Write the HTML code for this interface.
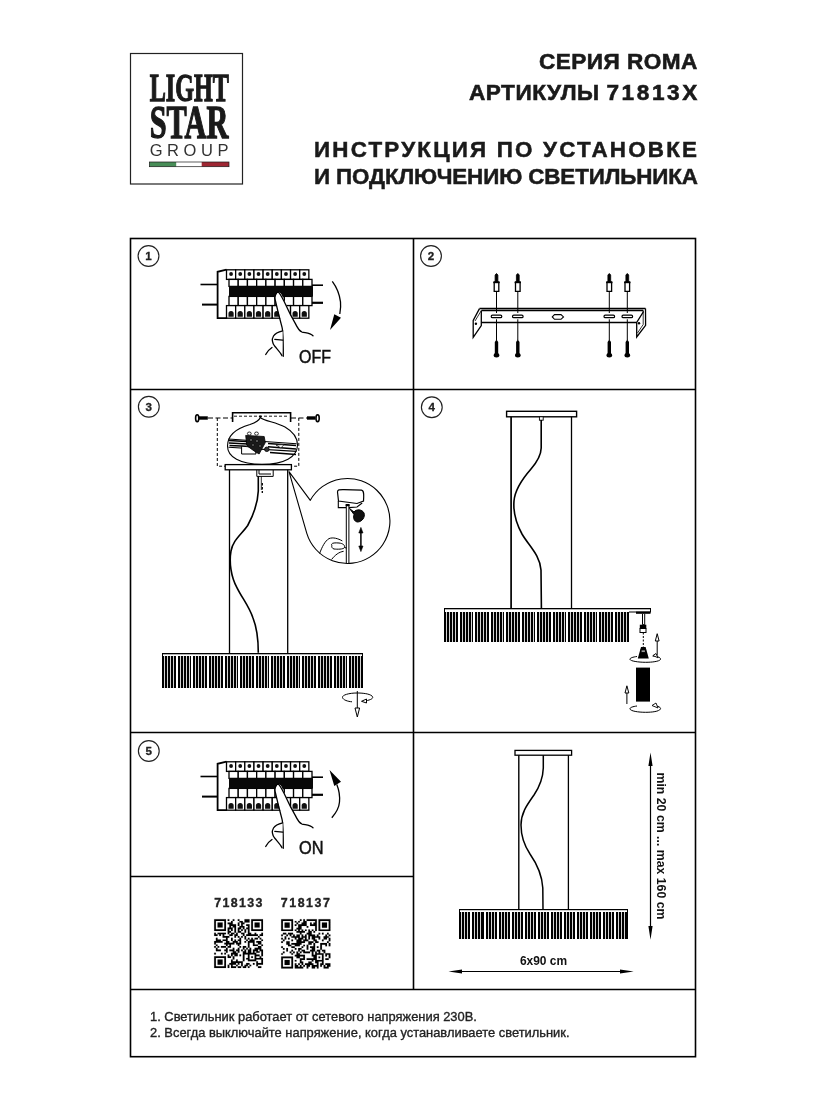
<!DOCTYPE html>
<html><head><meta charset="utf-8">
<style>
html,body{margin:0;padding:0;background:#fff;}
body{width:826px;height:1100px;position:relative;overflow:hidden;font-family:"Liberation Sans",sans-serif;color:#1a1a1a;}
.abs{position:absolute;white-space:nowrap;will-change:transform;}
.h1{font-weight:bold;font-size:22.6px;line-height:1;-webkit-text-stroke:0.6px #1a1a1a;}
.h2{font-weight:bold;font-size:22.4px;line-height:1;-webkit-text-stroke:0.5px #1a1a1a;}
svg{position:absolute;left:0;top:0;will-change:transform;}
</style></head><body>
<!-- header texts -->
<div class="abs h1" id="t1" style="left:539px;top:51px;letter-spacing:0.45px;">СЕРИЯ ROMA</div>
<div class="abs h1" id="t2" style="left:469px;top:82px;letter-spacing:0.5px;">АРТИКУЛЫ <span style="letter-spacing:2.6px">71813</span>X</div>
<div class="abs h2" id="t3" style="left:314px;top:139px;letter-spacing:2.2px;">ИНСТРУКЦИЯ ПО УСТАНОВКЕ</div>
<div class="abs h2" id="t4" style="left:314px;top:166px;letter-spacing:-0.12px;">И ПОДКЛЮЧЕНИЮ СВЕТИЛЬНИКА</div>

<svg width="826" height="1100" viewBox="0 0 826 1100">
<!-- logo box -->
<rect x="130.5" y="53.5" width="112" height="130.5" fill="none" stroke="#222" stroke-width="1.2"/>
<!-- grid -->
<g stroke="#000" stroke-width="1.6" fill="none">
<rect x="130.5" y="238.5" width="565" height="818.2"/>
<line x1="413.5" y1="238.5" x2="413.5" y2="989.5"/>
<line x1="130.5" y1="389.5" x2="695.5" y2="389.5"/>
<line x1="130.5" y1="732.5" x2="695.5" y2="732.5"/>
<line x1="130.5" y1="876.5" x2="413.5" y2="876.5"/>
<line x1="130.5" y1="989.5" x2="695.5" y2="989.5"/>
</g>
<!-- panel1 -->
<g id="p1">
<g stroke="#000" fill="none" stroke-width="1.6">
<line x1="200.5" y1="284.5" x2="218" y2="284.5"/><line x1="202" y1="304.6" x2="218" y2="304.6" stroke-width="2"/>
<line x1="312" y1="285.2" x2="323" y2="285.2"/><line x1="312" y1="302.8" x2="323" y2="302.8" stroke-width="2.2"/>
<path d="M226.5 269.6 L217.6 271.8 L217.6 318.2 L227 318.2" stroke-width="1.8"/>
</g>
<g stroke="#000" fill="#fff" stroke-width="1.3">
<rect x="226.50" y="269.8" width="9.15" height="9.6"/>
<rect x="235.65" y="269.8" width="9.15" height="9.6"/>
<rect x="244.80" y="269.8" width="9.15" height="9.6"/>
<rect x="253.95" y="269.8" width="9.15" height="9.6"/>
<rect x="263.10" y="269.8" width="9.15" height="9.6"/>
<rect x="272.25" y="269.8" width="9.15" height="9.6"/>
<rect x="281.40" y="269.8" width="9.15" height="9.6"/>
<rect x="290.55" y="269.8" width="9.15" height="9.6"/>
<rect x="299.70" y="269.8" width="9.15" height="9.6"/>
</g>
<g fill="#111">
<circle cx="231.07" cy="274" r="1.9"/>
<circle cx="240.22" cy="274" r="1.9"/>
<circle cx="249.38" cy="274" r="1.9"/>
<circle cx="258.52" cy="274" r="1.9"/>
<circle cx="267.68" cy="274" r="1.9"/>
<circle cx="276.82" cy="274" r="1.9"/>
<circle cx="285.97" cy="274" r="1.9"/>
<circle cx="295.12" cy="274" r="1.9"/>
<circle cx="304.27" cy="274" r="1.9"/>
</g>
<g stroke="#000" fill="#fff" stroke-width="1.3">
<rect x="229.00" y="279.4" width="9.22" height="7"/>
<rect x="229.00" y="296.4" width="9.22" height="9.2"/>
<rect x="238.22" y="279.4" width="9.22" height="7"/>
<rect x="238.22" y="296.4" width="9.22" height="9.2"/>
<rect x="247.44" y="279.4" width="9.22" height="7"/>
<rect x="247.44" y="296.4" width="9.22" height="9.2"/>
<rect x="256.67" y="279.4" width="9.22" height="7"/>
<rect x="256.67" y="296.4" width="9.22" height="9.2"/>
<rect x="265.89" y="279.4" width="9.22" height="7"/>
<rect x="265.89" y="296.4" width="9.22" height="9.2"/>
<rect x="275.11" y="279.4" width="9.22" height="7"/>
<rect x="275.11" y="296.4" width="9.22" height="9.2"/>
<rect x="284.33" y="279.4" width="9.22" height="7"/>
<rect x="284.33" y="296.4" width="9.22" height="9.2"/>
<rect x="293.56" y="279.4" width="9.22" height="7"/>
<rect x="293.56" y="296.4" width="9.22" height="9.2"/>
<rect x="302.78" y="279.4" width="9.22" height="7"/>
<rect x="302.78" y="296.4" width="9.22" height="9.2"/>
</g>
<rect x="229" y="286.2" width="84" height="10.4" fill="#080808"/>
<g stroke="#000" fill="#fff" stroke-width="1.3">
<rect x="226.50" y="305.6" width="9.15" height="12.6"/>
<rect x="235.65" y="305.6" width="9.15" height="12.6"/>
<rect x="244.80" y="305.6" width="9.15" height="12.6"/>
<rect x="253.95" y="305.6" width="9.15" height="12.6"/>
<rect x="263.10" y="305.6" width="9.15" height="12.6"/>
<rect x="272.25" y="305.6" width="9.15" height="12.6"/>
<rect x="281.40" y="305.6" width="9.15" height="12.6"/>
<rect x="290.55" y="305.6" width="9.15" height="12.6"/>
<rect x="299.70" y="305.6" width="9.15" height="12.6"/>
</g>
<g fill="#111">
<path d="M228.47 316.8 L228.47 313.6 A2.6 2.6 0 0 1 233.67 313.6 L233.67 316.8 Z"/>
<path d="M237.62 316.8 L237.62 313.6 A2.6 2.6 0 0 1 242.82 313.6 L242.82 316.8 Z"/>
<path d="M246.78 316.8 L246.78 313.6 A2.6 2.6 0 0 1 251.98 313.6 L251.98 316.8 Z"/>
<path d="M255.92 316.8 L255.92 313.6 A2.6 2.6 0 0 1 261.12 313.6 L261.12 316.8 Z"/>
<path d="M265.08 316.8 L265.08 313.6 A2.6 2.6 0 0 1 270.28 313.6 L270.28 316.8 Z"/>
<path d="M274.22 316.8 L274.22 313.6 A2.6 2.6 0 0 1 279.42 313.6 L279.42 316.8 Z"/>
<path d="M283.37 316.8 L283.37 313.6 A2.6 2.6 0 0 1 288.57 313.6 L288.57 316.8 Z"/>
<path d="M292.52 316.8 L292.52 313.6 A2.6 2.6 0 0 1 297.72 313.6 L297.72 316.8 Z"/>
<path d="M301.67 316.8 L301.67 313.6 A2.6 2.6 0 0 1 306.87 313.6 L306.87 316.8 Z"/>
</g>
<g stroke="#000" stroke-width="1.3" fill="#fff" stroke-linejoin="round" stroke-linecap="round">
<path d="M274.8 298.2 C275.5 292.5 279.5 290.8 281.5 294.5 C283.5 299 285.5 303 287 307 C289.5 313 292 318.5 295.4 323.6 C297 327 299 330.5 302 332 C305 333 309 333 313 335.7 L300 360 L283.3 360 L283.3 331 C281 322 279 312 274.8 298.2 Z" stroke="none"/>
<path d="M274.8 298.2 C277 308 279.5 318 282 327.2 C283.3 332 283.3 345 283.3 356.3" fill="none"/>
<path d="M278.5 292.1 C281 295 284 301 286.3 306 C288.5 311 291 316 295.4 323.6 C297 327 299.5 331 302 332 C305.5 333 310 333 313 335.7" fill="none"/>
<path d="M274.8 298.2 C275.5 293.5 277 292 278.5 292.1" fill="none"/>
<path d="M282.7 330.8 C278 332 275 333.5 273.5 336 C271.5 339.5 272.5 343.5 275 346.5 C277.5 349.5 280.5 352.5 282 355.7" fill="#fff"/>
<path d="M274.8 339.3 L282.7 340.2" fill="none"/>
<path d="M265.7 354.5 C267 351.5 269 349.5 272 347.5" fill="none"/>
</g>
</g>
<path d="M332.3 281.4 C336.5 287 339.5 294 340.5 301.8 C341 306 340.5 310 339.8 314" fill="none" stroke="#000" stroke-width="1.3"/>
<path d="M334.3 314.3 L341 317.8 L330 330 Z" fill="#000"/>
<text x="299" y="363.2" font-family="Liberation Sans" font-size="17.5" fill="#111" stroke="#111" stroke-width="0.45" textLength="32" lengthAdjust="spacingAndGlyphs">OFF</text>
<use href="#p1" y="492"/>
<path d="M336.8 784.5 C339 790 340 796 339.5 802 C339 808 336 813 331.8 817.7" fill="none" stroke="#000" stroke-width="1.3"/>
<path d="M329.5 770 L334.3 786 L341 781.8 Z" fill="#000"/>
<text x="299" y="853.8" font-family="Liberation Sans" font-size="17.5" fill="#111" stroke="#111" stroke-width="0.45" textLength="24.5" lengthAdjust="spacingAndGlyphs">ON</text>

<!-- panel2 -->
<g id="p2" stroke="#000" fill="none" stroke-width="1.2">
<path d="M479.5 308.6 L645.5 308.6 M481.5 310.6 L643.2 310.6 M481.5 322.5 L636.7 322.5" stroke-width="1.5"/>
<path d="M479.5 308.6 L473.2 320.4 L473.2 337.4 L481.3 325.6 L481.3 310.6" stroke-width="1.3"/>
<path d="M481.3 310.6 L475 321 " stroke-width="0.8"/>
<circle cx="475.9" cy="323.8" r="1.2" fill="#000" stroke="none"/>
<path d="M645.5 308.6 L645.6 325.3 L636.7 337 L636.7 322.5 L643.2 312 L643.2 310.6" stroke-width="1.3"/>
<path d="M643.2 312 L643.2 324.5 L637.5 333" stroke-width="0.8"/>
<circle cx="639" cy="323.2" r="1.2" fill="#000" stroke="none"/>
<path d="M552.3 316.9 L554.5 314.6 L561 314.6 L563.5 316.9 L561 319.3 L554.5 319.3 Z" stroke-width="1.1"/>
<rect x="491.2" y="315.1" width="10.6" height="2.6" rx="1.3"/>
<line x1="496.5" y1="291" x2="496.5" y2="313" stroke-width="1"/>
<line x1="496.5" y1="319.3" x2="496.5" y2="340" stroke-width="1"/>
<path d="M494.2 282 L494.2 291.3 L498.8 291.3 L498.8 282 Z" fill="#fff" stroke-width="1.3"/>
<path d="M493.3 282.5 L499.7 282.5" stroke-width="1.4"/>
<path d="M495.1 282 L495.1 275 Q496.5 272 497.9 275 L497.9 282 Z" fill="#000" stroke-width="0.8"/>
<path d="M496.5 339.5 L498.2 342 L498.2 354 L494.8 354 L494.8 342 Z" fill="#000" stroke="none"/>
<ellipse cx="496.5" cy="355.3" rx="2.8" ry="2.2" fill="#000" stroke="none"/>
<rect x="512.5" y="315.1" width="10.6" height="2.6" rx="1.3"/>
<line x1="517.8" y1="291" x2="517.8" y2="313" stroke-width="1"/>
<line x1="517.8" y1="319.3" x2="517.8" y2="340" stroke-width="1"/>
<path d="M515.5 282 L515.5 291.3 L520.1 291.3 L520.1 282 Z" fill="#fff" stroke-width="1.3"/>
<path d="M514.6 282.5 L521.0 282.5" stroke-width="1.4"/>
<path d="M516.4 282 L516.4 275 Q517.8 272 519.2 275 L519.2 282 Z" fill="#000" stroke-width="0.8"/>
<path d="M517.8 339.5 L519.5 342 L519.5 354 L516.1 354 L516.1 342 Z" fill="#000" stroke="none"/>
<ellipse cx="517.8" cy="355.3" rx="2.8" ry="2.2" fill="#000" stroke="none"/>
<rect x="604.0" y="315.1" width="10.6" height="2.6" rx="1.3"/>
<line x1="609.3" y1="291" x2="609.3" y2="313" stroke-width="1"/>
<line x1="609.3" y1="319.3" x2="609.3" y2="340" stroke-width="1"/>
<path d="M607.0 282 L607.0 291.3 L611.6 291.3 L611.6 282 Z" fill="#fff" stroke-width="1.3"/>
<path d="M606.1 282.5 L612.5 282.5" stroke-width="1.4"/>
<path d="M607.9 282 L607.9 275 Q609.3 272 610.7 275 L610.7 282 Z" fill="#000" stroke-width="0.8"/>
<path d="M609.3 339.5 L611.0 342 L611.0 354 L607.6 354 L607.6 342 Z" fill="#000" stroke="none"/>
<ellipse cx="609.3" cy="355.3" rx="2.8" ry="2.2" fill="#000" stroke="none"/>
<rect x="622.0" y="315.1" width="10.6" height="2.6" rx="1.3"/>
<line x1="627.3" y1="291" x2="627.3" y2="313" stroke-width="1"/>
<line x1="627.3" y1="319.3" x2="627.3" y2="340" stroke-width="1"/>
<path d="M625.0 282 L625.0 291.3 L629.6 291.3 L629.6 282 Z" fill="#fff" stroke-width="1.3"/>
<path d="M624.1 282.5 L630.5 282.5" stroke-width="1.4"/>
<path d="M625.9 282 L625.9 275 Q627.3 272 628.7 275 L628.7 282 Z" fill="#000" stroke-width="0.8"/>
<path d="M627.3 339.5 L629.0 342 L629.0 354 L625.6 354 L625.6 342 Z" fill="#000" stroke="none"/>
<ellipse cx="627.3" cy="355.3" rx="2.8" ry="2.2" fill="#000" stroke="none"/>
</g>
<!-- panels346 -->
<g id="p3" stroke="#000" fill="none" stroke-width="1.2">
<path d="M207.8 418 L199 418" stroke-width="3.4"/>
<ellipse cx="197.2" cy="418.2" rx="1.6" ry="3.4" fill="#fff" stroke-width="1.6"/>
<path d="M307 418 L315.5 418" stroke-width="3.4"/>
<ellipse cx="317.6" cy="418.2" rx="1.6" ry="3.4" fill="#fff" stroke-width="1.6"/>
<path d="M208 418 L232 418 M291 418 L307 418" stroke-dasharray="5 2.5" stroke-width="1"/>
<path d="M232.6 422 L232.6 412.7 L290.6 412.7 L290.6 422" stroke-width="1.6"/>
<path d="M234 416.2 L289 416.2" stroke-dasharray="3 2" stroke-width="0.9"/>
<ellipse cx="260.3" cy="416.4" rx="1.5" ry="1" fill="#000" stroke="none"/>
<path d="M217.3 418 L217.3 466.2 L298.8 466.2 L298.8 418" stroke-dasharray="3 2" stroke-width="1"/>
<path d="M260.3 417.5 C259 421 256 422.5 250 424.5 C236 428.5 227.5 436 227.5 446 C227.5 457 240 464.3 262 464.3 C284 464.3 297.5 457 297.5 445 C297.5 437 292 431 285 427 C275 422 264 421 260.3 417.5 Z" fill="#fff" stroke-width="1.1"/>
<path d="M228.5 439 L296.5 443.7 M228.5 447.3 L296.5 451.4" stroke-width="1.1"/>
<path d="M229 440.6 L250 441.8 M229 443 L248 444 M229.5 445.5 L246 446.3 M268 443.4 L296 445.6 M268 446.8 L296 449 M270 452.6 L296 454.6" stroke-width="1.5"/>
<path d="M276 445 L284 444.5 L281 448 Z" fill="#fff" stroke-width="0.7"/>
<path d="M241.6 446.2 L255 447.3 L256 454 L241.6 454 Z" fill="#fff" stroke-width="1"/>
<path d="M245.7 435.4 L264.2 436.5 L265.3 442.6 L259.1 454 L254 450.9 L246.8 445.7 Z" fill="#1a1a1a" stroke-width="0.8"/>
<g fill="#fff" stroke="#000" stroke-width="0.8"><ellipse cx="249.3" cy="433.6" rx="1.9" ry="1.6"/><ellipse cx="256.5" cy="433.6" rx="1.9" ry="1.6"/><circle cx="251" cy="440" r="1.1"/><circle cx="257" cy="441" r="1.1"/><circle cx="253" cy="445" r="1"/><circle cx="260" cy="446" r="1"/></g>
<circle cx="266.8" cy="449.3" r="2.3" fill="#333" stroke-width="0.8"/>
<rect x="225.2" y="464.6" width="66.2" height="5.2" fill="#fff" stroke-width="1.3"/>
<line x1="229.5" y1="469.8" x2="229.5" y2="653" stroke-width="1.3"/>
<line x1="287.7" y1="469.8" x2="287.7" y2="653" stroke-width="1.3"/>
<path d="M256.8 470 L256.8 476.4 L273.2 476.4 L273.2 470 M259 470 L259 474 L271 474" stroke-width="1"/>
<path d="M258.3 476.4 L258.3 491 C258 499 255 512 247.7 525.5 C241 535 233 540 231 551 C229 562 231 577 236.8 587.3 C242 598 249 606 253 618 C257 628 258.3 638 258.3 652.7" stroke-width="1.6"/>
<path d="M261.3 476.4 L261.3 490" stroke-width="0.8"/>
<path d="M262.3 483 L262.3 493" stroke-width="1.3" stroke-dasharray="2.5 1.5"/>
<path d="M289 471.7 L310.3 500.3 A42.5 42.5 0 1 1 306.8 533.4 Z" fill="#fff" stroke-width="1.1" stroke-linejoin="round"/>
<path d="M337.5 492 C337.5 489.8 339 489.5 344 489.6 L361.5 490.2 C363.5 490.5 363.8 492 363.7 497 L363.5 501 L357 503.5 L338.5 501 Z" fill="#fff" stroke-width="1.2"/>
<path d="M338.3 501 L338.3 507.6 L346 507.6 M349 507.6 L357 507 L362.2 503" stroke-width="1.1"/>
<path d="M346.3 505 L346.3 563.5 M348.9 505 L348.9 563.5" stroke-width="1"/>
<rect x="345.6" y="504" width="4" height="2.2" fill="#000" stroke="none"/>
<path d="M349.5 508.5 L354 512 C356 509 362 509 364 513 C365.5 517 362 522 357.5 522 C354 521.5 353 518 354 514.5 Z" fill="#111" stroke-width="1"/>
<path d="M360.9 531 L360.9 548" stroke-width="1.5"/>
<path d="M358.8 533 L360.9 527.4 L363 533 Z M358.8 546 L360.9 551.6 L363 546 Z" fill="#000" stroke-width="0.6"/>
<path d="M319.6 553.5 C322 547 325 541 329 538.6 C333 537 338 538.5 342.3 540.9 M331.8 545.5 C330.6 543 334 542.6 339 543 C343 543.5 345 545 344.5 547.5 C343.5 549.5 337 549.3 334 549 C332.3 548.6 331.4 547 331.8 545.5 Z M331.6 559.5 C335 555 339 552 343.6 551.3" stroke-width="1" fill="none"/>
<path d="M344.5 547.5 L346.5 548" stroke-width="1.2"/>
<g fill="#000" stroke="none"><rect x="162" y="653" width="201" height="1.3"/><rect x="162" y="653" width="1" height="35"/><rect x="362" y="653" width="1" height="3"/></g>
<g fill="#000" stroke="none" shape-rendering="crispEdges"><rect x="162" y="656" width="2" height="32"/><rect x="165" y="656" width="2" height="32"/><rect x="168" y="656" width="2" height="32"/><rect x="171" y="656" width="2" height="32"/><rect x="174" y="656" width="2" height="32"/><rect x="178" y="656" width="2" height="32"/><rect x="181" y="656" width="2" height="32"/><rect x="184" y="656" width="2" height="32"/><rect x="187" y="656" width="2" height="32"/><rect x="190" y="656" width="1" height="32"/><rect x="193" y="656" width="2" height="32"/><rect x="196" y="656" width="2" height="32"/><rect x="199" y="656" width="2" height="32"/><rect x="202" y="656" width="2" height="32"/><rect x="205" y="656" width="2" height="32"/><rect x="209" y="656" width="2" height="32"/><rect x="212" y="656" width="2" height="32"/><rect x="215" y="656" width="2" height="32"/><rect x="218" y="656" width="2" height="32"/><rect x="221" y="656" width="2" height="32"/><rect x="225" y="656" width="2" height="32"/><rect x="228" y="656" width="2" height="32"/><rect x="231" y="656" width="2" height="32"/><rect x="234" y="656" width="2" height="32"/><rect x="237" y="656" width="1" height="32"/><rect x="240" y="656" width="2" height="32"/><rect x="243" y="656" width="2" height="32"/><rect x="246" y="656" width="2" height="32"/><rect x="249" y="656" width="2" height="32"/><rect x="252" y="656" width="2" height="32"/><rect x="256" y="656" width="2" height="32"/><rect x="259" y="656" width="2" height="32"/><rect x="262" y="656" width="2" height="32"/><rect x="265" y="656" width="2" height="32"/><rect x="268" y="656" width="1" height="32"/><rect x="271" y="656" width="2" height="32"/><rect x="274" y="656" width="2" height="32"/><rect x="277" y="656" width="2" height="32"/><rect x="280" y="656" width="2" height="32"/><rect x="283" y="656" width="2" height="32"/><rect x="287" y="656" width="2" height="32"/><rect x="290" y="656" width="2" height="32"/><rect x="293" y="656" width="2" height="32"/><rect x="296" y="656" width="2" height="32"/><rect x="299" y="656" width="1" height="32"/><rect x="302" y="656" width="2" height="32"/><rect x="305" y="656" width="2" height="32"/><rect x="308" y="656" width="2" height="32"/><rect x="311" y="656" width="2" height="32"/><rect x="314" y="656" width="2" height="32"/><rect x="318" y="656" width="2" height="32"/><rect x="321" y="656" width="2" height="32"/><rect x="324" y="656" width="2" height="32"/><rect x="327" y="656" width="2" height="32"/><rect x="330" y="656" width="2" height="32"/><rect x="334" y="656" width="2" height="32"/><rect x="337" y="656" width="2" height="32"/><rect x="340" y="656" width="2" height="32"/><rect x="343" y="656" width="2" height="32"/><rect x="346" y="656" width="1" height="32"/><rect x="349" y="656" width="2" height="32"/><rect x="352" y="656" width="2" height="32"/><rect x="355" y="656" width="2" height="32"/><rect x="358" y="656" width="2" height="32"/><rect x="361" y="656" width="2" height="32"/></g><g fill="#d4d4d4" stroke="none" shape-rendering="crispEdges"><rect x="164" y="656" width="1" height="32"/><rect x="167" y="656" width="1" height="32"/><rect x="170" y="656" width="1" height="32"/><rect x="173" y="656" width="1" height="32"/><rect x="180" y="656" width="1" height="32"/><rect x="183" y="656" width="1" height="32"/><rect x="186" y="656" width="1" height="32"/><rect x="189" y="656" width="1" height="32"/><rect x="195" y="656" width="1" height="32"/><rect x="198" y="656" width="1" height="32"/><rect x="201" y="656" width="1" height="32"/><rect x="204" y="656" width="1" height="32"/><rect x="211" y="656" width="1" height="32"/><rect x="214" y="656" width="1" height="32"/><rect x="217" y="656" width="1" height="32"/><rect x="220" y="656" width="1" height="32"/><rect x="227" y="656" width="1" height="32"/><rect x="230" y="656" width="1" height="32"/><rect x="233" y="656" width="1" height="32"/><rect x="236" y="656" width="1" height="32"/><rect x="242" y="656" width="1" height="32"/><rect x="245" y="656" width="1" height="32"/><rect x="248" y="656" width="1" height="32"/><rect x="251" y="656" width="1" height="32"/><rect x="258" y="656" width="1" height="32"/><rect x="261" y="656" width="1" height="32"/><rect x="264" y="656" width="1" height="32"/><rect x="267" y="656" width="1" height="32"/><rect x="273" y="656" width="1" height="32"/><rect x="276" y="656" width="1" height="32"/><rect x="279" y="656" width="1" height="32"/><rect x="282" y="656" width="1" height="32"/><rect x="289" y="656" width="1" height="32"/><rect x="292" y="656" width="1" height="32"/><rect x="295" y="656" width="1" height="32"/><rect x="298" y="656" width="1" height="32"/><rect x="304" y="656" width="1" height="32"/><rect x="307" y="656" width="1" height="32"/><rect x="310" y="656" width="1" height="32"/><rect x="313" y="656" width="1" height="32"/><rect x="320" y="656" width="1" height="32"/><rect x="323" y="656" width="1" height="32"/><rect x="326" y="656" width="1" height="32"/><rect x="329" y="656" width="1" height="32"/><rect x="336" y="656" width="1" height="32"/><rect x="339" y="656" width="1" height="32"/><rect x="342" y="656" width="1" height="32"/><rect x="345" y="656" width="1" height="32"/><rect x="351" y="656" width="1" height="32"/><rect x="354" y="656" width="1" height="32"/><rect x="357" y="656" width="1" height="32"/><rect x="360" y="656" width="1" height="32"/></g>
<path d="M363 701.3 C372 700 374 698 372 696 C369 693.5 362 693 357 693 C349 693 342 695 342.5 697.5 C343 700 348 701.5 352 701.8" stroke-width="1"/>
<path d="M366.5 699 L361.5 701.3 L366.5 703 Z" fill="#fff" stroke-width="1"/>
<path d="M357.3 691 L357.3 708" stroke-width="1"/>
<path d="M355 708 L357.3 717 L359.6 708 Z" fill="#fff" stroke-width="1"/>
</g>
<g id="p4" stroke="#000" fill="none" stroke-width="1.2">
<rect x="506.6" y="411.3" width="70" height="5.5" fill="#fff" stroke-width="1.4"/>
<line x1="511.1" y1="416.8" x2="511.1" y2="608" stroke-width="1.7"/>
<line x1="571.5" y1="416.8" x2="571.5" y2="608" stroke-width="1.3"/>
<rect x="539.4" y="416.8" width="3.8" height="3.4" fill="#fff" stroke-width="0.9"/>
<path d="M541.2 420 L541.2 448 C541 456 537 462 531 469 C524 477 515 488 514 501 C513 513 516 523 522 534 C529 546 540 555 541 570 L541.4 608" stroke-width="1.6"/>
<g fill="#000" stroke="none"><rect x="444" y="608" width="207" height="1.3"/><rect x="444" y="608" width="1" height="34"/><rect x="650" y="608" width="1" height="4"/><rect x="629" y="611.5" width="22" height="1"/></g>
<g fill="#000" stroke="none" shape-rendering="crispEdges"><rect x="444" y="612" width="2" height="30"/><rect x="447" y="612" width="2" height="30"/><rect x="450" y="612" width="2" height="30"/><rect x="453" y="612" width="2" height="30"/><rect x="456" y="612" width="2" height="30"/><rect x="460" y="612" width="2" height="30"/><rect x="463" y="612" width="2" height="30"/><rect x="466" y="612" width="2" height="30"/><rect x="469" y="612" width="2" height="30"/><rect x="472" y="612" width="1" height="30"/><rect x="475" y="612" width="2" height="30"/><rect x="478" y="612" width="2" height="30"/><rect x="481" y="612" width="2" height="30"/><rect x="484" y="612" width="2" height="30"/><rect x="487" y="612" width="2" height="30"/><rect x="491" y="612" width="2" height="30"/><rect x="494" y="612" width="2" height="30"/><rect x="497" y="612" width="2" height="30"/><rect x="500" y="612" width="2" height="30"/><rect x="503" y="612" width="1" height="30"/><rect x="506" y="612" width="2" height="30"/><rect x="509" y="612" width="2" height="30"/><rect x="512" y="612" width="2" height="30"/><rect x="515" y="612" width="2" height="30"/><rect x="518" y="612" width="2" height="30"/><rect x="522" y="612" width="2" height="30"/><rect x="525" y="612" width="2" height="30"/><rect x="528" y="612" width="2" height="30"/><rect x="531" y="612" width="2" height="30"/><rect x="534" y="612" width="1" height="30"/><rect x="537" y="612" width="2" height="30"/><rect x="540" y="612" width="2" height="30"/><rect x="543" y="612" width="2" height="30"/><rect x="546" y="612" width="2" height="30"/><rect x="549" y="612" width="2" height="30"/><rect x="553" y="612" width="2" height="30"/><rect x="556" y="612" width="2" height="30"/><rect x="559" y="612" width="2" height="30"/><rect x="562" y="612" width="2" height="30"/><rect x="565" y="612" width="1" height="30"/><rect x="568" y="612" width="2" height="30"/><rect x="571" y="612" width="2" height="30"/><rect x="574" y="612" width="2" height="30"/><rect x="577" y="612" width="2" height="30"/><rect x="580" y="612" width="2" height="30"/><rect x="584" y="612" width="2" height="30"/><rect x="587" y="612" width="2" height="30"/><rect x="590" y="612" width="2" height="30"/><rect x="593" y="612" width="2" height="30"/><rect x="596" y="612" width="1" height="30"/><rect x="599" y="612" width="2" height="30"/><rect x="602" y="612" width="2" height="30"/><rect x="605" y="612" width="2" height="30"/><rect x="608" y="612" width="2" height="30"/><rect x="611" y="612" width="2" height="30"/><rect x="615" y="612" width="2" height="30"/><rect x="618" y="612" width="2" height="30"/><rect x="621" y="612" width="2" height="30"/><rect x="624" y="612" width="2" height="30"/><rect x="627" y="612" width="2" height="30"/></g><g fill="#d4d4d4" stroke="none" shape-rendering="crispEdges"><rect x="446" y="612" width="1" height="30"/><rect x="449" y="612" width="1" height="30"/><rect x="452" y="612" width="1" height="30"/><rect x="455" y="612" width="1" height="30"/><rect x="462" y="612" width="1" height="30"/><rect x="465" y="612" width="1" height="30"/><rect x="468" y="612" width="1" height="30"/><rect x="471" y="612" width="1" height="30"/><rect x="477" y="612" width="1" height="30"/><rect x="480" y="612" width="1" height="30"/><rect x="483" y="612" width="1" height="30"/><rect x="486" y="612" width="1" height="30"/><rect x="493" y="612" width="1" height="30"/><rect x="496" y="612" width="1" height="30"/><rect x="499" y="612" width="1" height="30"/><rect x="502" y="612" width="1" height="30"/><rect x="508" y="612" width="1" height="30"/><rect x="511" y="612" width="1" height="30"/><rect x="514" y="612" width="1" height="30"/><rect x="517" y="612" width="1" height="30"/><rect x="524" y="612" width="1" height="30"/><rect x="527" y="612" width="1" height="30"/><rect x="530" y="612" width="1" height="30"/><rect x="533" y="612" width="1" height="30"/><rect x="539" y="612" width="1" height="30"/><rect x="542" y="612" width="1" height="30"/><rect x="545" y="612" width="1" height="30"/><rect x="548" y="612" width="1" height="30"/><rect x="555" y="612" width="1" height="30"/><rect x="558" y="612" width="1" height="30"/><rect x="561" y="612" width="1" height="30"/><rect x="564" y="612" width="1" height="30"/><rect x="570" y="612" width="1" height="30"/><rect x="573" y="612" width="1" height="30"/><rect x="576" y="612" width="1" height="30"/><rect x="579" y="612" width="1" height="30"/><rect x="586" y="612" width="1" height="30"/><rect x="589" y="612" width="1" height="30"/><rect x="592" y="612" width="1" height="30"/><rect x="595" y="612" width="1" height="30"/><rect x="601" y="612" width="1" height="30"/><rect x="604" y="612" width="1" height="30"/><rect x="607" y="612" width="1" height="30"/><rect x="610" y="612" width="1" height="30"/><rect x="617" y="612" width="1" height="30"/><rect x="620" y="612" width="1" height="30"/><rect x="623" y="612" width="1" height="30"/><rect x="626" y="612" width="1" height="30"/></g>
<rect x="636" y="611.6" width="14.5" height="2.2" fill="#000" stroke="none"/>
<rect x="642" y="613.8" width="3.2" height="11" fill="#000" stroke="none"/>
<rect x="643" y="614" width="1.2" height="10" fill="#fff" stroke="none"/>
<rect x="639.8" y="624.7" width="6.5" height="4" fill="#000" stroke="none"/>
<rect x="640" y="628.5" width="6" height="4" fill="#fff" stroke-width="1"/>
<path d="M643.3 632.5 L643.3 647" stroke-width="1" stroke-dasharray="2 1.5"/>
<path d="M641 647 L645.6 647 L648.8 658.4 L637.8 658.4 Z" fill="#000" stroke="none"/>
<rect x="641" y="650" width="4.5" height="2.2" fill="#fff"/>
<path d="M652.5 656 C659 656.5 661 658 660.5 659.5 C659 661.5 652 662.3 645.7 662.3 C638 662.3 630.5 661 630 659.5 C629.5 658 633 657 637 656.5" stroke-width="1"/>
<path d="M653 655.5 L658 657.8 L656 653.5 Z" fill="#fff" stroke-width="0.9"/>
<path d="M657.2 639 L657.2 655.5" stroke-width="1"/>
<path d="M655.3 641 L657.2 633.7 L659.1 641 Z" fill="#fff" stroke-width="1"/>
<rect x="636" y="667.6" width="14" height="34" fill="#000" stroke="none"/>
<path d="M626.9 691 L626.9 704" stroke-width="1"/>
<path d="M625 693 L626.9 685.8 L628.8 693 Z" fill="#fff" stroke-width="1"/>
<path d="M652.5 705.5 C659 706 661 707.5 660.5 709 C659 711.5 652 712.3 645.7 712.3 C638 712.3 630.5 711 630 709 C629.5 707.5 633 706.5 637 706" stroke-width="1"/>
<path d="M652 705.5 L658 708 L656 703 Z" fill="#fff" stroke-width="0.9"/>
</g>
<g id="p6" stroke="#000" fill="none" stroke-width="1.2">
<rect x="515" y="750.4" width="56.6" height="4.8" fill="#fff" stroke-width="1.3"/>
<line x1="518.8" y1="755.2" x2="518.8" y2="909.4" stroke-width="1.4"/>
<line x1="568.4" y1="755.2" x2="568.4" y2="909.4" stroke-width="1.3"/>
<path d="M543.3 755.2 L543.3 768 C543 778 540 786 534 795 C527 805 521 813 521 825 C521 836 524 845 530 854 C537 864 542 874 542.8 888 L543 909.4" stroke-width="1.5"/>
<g fill="#000" stroke="none"><rect x="459" y="909" width="169" height="1.2"/><rect x="459" y="909" width="1" height="30"/><rect x="627" y="909" width="1" height="3"/></g>
<g fill="#000" stroke="none" shape-rendering="crispEdges"><rect x="459" y="912" width="2" height="27"/><rect x="462" y="912" width="2" height="27"/><rect x="465" y="912" width="2" height="27"/><rect x="468" y="912" width="2" height="27"/><rect x="472" y="912" width="2" height="27"/><rect x="475" y="912" width="2" height="27"/><rect x="478" y="912" width="2" height="27"/><rect x="481" y="912" width="3" height="27"/><rect x="486" y="912" width="2" height="27"/><rect x="489" y="912" width="2" height="27"/><rect x="492" y="912" width="2" height="27"/><rect x="495" y="912" width="2" height="27"/><rect x="499" y="912" width="2" height="27"/><rect x="502" y="912" width="2" height="27"/><rect x="505" y="912" width="2" height="27"/><rect x="508" y="912" width="2" height="27"/><rect x="512" y="912" width="2" height="27"/><rect x="515" y="912" width="2" height="27"/><rect x="518" y="912" width="2" height="27"/><rect x="521" y="912" width="2" height="27"/><rect x="525" y="912" width="2" height="27"/><rect x="528" y="912" width="2" height="27"/><rect x="531" y="912" width="2" height="27"/><rect x="534" y="912" width="2" height="27"/><rect x="538" y="912" width="2" height="27"/><rect x="541" y="912" width="2" height="27"/><rect x="544" y="912" width="2" height="27"/><rect x="547" y="912" width="2" height="27"/><rect x="551" y="912" width="2" height="27"/><rect x="554" y="912" width="2" height="27"/><rect x="557" y="912" width="2" height="27"/><rect x="560" y="912" width="2" height="27"/><rect x="564" y="912" width="2" height="27"/><rect x="567" y="912" width="2" height="27"/><rect x="570" y="912" width="2" height="27"/><rect x="573" y="912" width="2" height="27"/><rect x="577" y="912" width="2" height="27"/><rect x="580" y="912" width="2" height="27"/><rect x="583" y="912" width="2" height="27"/><rect x="586" y="912" width="2" height="27"/><rect x="590" y="912" width="2" height="27"/><rect x="593" y="912" width="2" height="27"/><rect x="596" y="912" width="2" height="27"/><rect x="599" y="912" width="2" height="27"/><rect x="603" y="912" width="2" height="27"/><rect x="606" y="912" width="2" height="27"/><rect x="609" y="912" width="2" height="27"/><rect x="612" y="912" width="2" height="27"/><rect x="616" y="912" width="2" height="27"/><rect x="619" y="912" width="2" height="27"/><rect x="622" y="912" width="2" height="27"/><rect x="625" y="912" width="3" height="27"/></g><g fill="#d4d4d4" stroke="none" shape-rendering="crispEdges"><rect x="461" y="912" width="1" height="27"/><rect x="464" y="912" width="1" height="27"/><rect x="467" y="912" width="1" height="27"/><rect x="474" y="912" width="1" height="27"/><rect x="477" y="912" width="1" height="27"/><rect x="480" y="912" width="1" height="27"/><rect x="488" y="912" width="1" height="27"/><rect x="491" y="912" width="1" height="27"/><rect x="494" y="912" width="1" height="27"/><rect x="501" y="912" width="1" height="27"/><rect x="504" y="912" width="1" height="27"/><rect x="507" y="912" width="1" height="27"/><rect x="514" y="912" width="1" height="27"/><rect x="517" y="912" width="1" height="27"/><rect x="520" y="912" width="1" height="27"/><rect x="527" y="912" width="1" height="27"/><rect x="530" y="912" width="1" height="27"/><rect x="533" y="912" width="1" height="27"/><rect x="540" y="912" width="1" height="27"/><rect x="543" y="912" width="1" height="27"/><rect x="546" y="912" width="1" height="27"/><rect x="553" y="912" width="1" height="27"/><rect x="556" y="912" width="1" height="27"/><rect x="559" y="912" width="1" height="27"/><rect x="566" y="912" width="1" height="27"/><rect x="569" y="912" width="1" height="27"/><rect x="572" y="912" width="1" height="27"/><rect x="579" y="912" width="1" height="27"/><rect x="582" y="912" width="1" height="27"/><rect x="585" y="912" width="1" height="27"/><rect x="592" y="912" width="1" height="27"/><rect x="595" y="912" width="1" height="27"/><rect x="598" y="912" width="1" height="27"/><rect x="605" y="912" width="1" height="27"/><rect x="608" y="912" width="1" height="27"/><rect x="611" y="912" width="1" height="27"/><rect x="618" y="912" width="1" height="27"/><rect x="621" y="912" width="1" height="27"/><rect x="624" y="912" width="1" height="27"/></g>
<path d="M460 971.5 L622 971.5" stroke-width="1.2"/>
<path d="M448.5 971.5 L462 969.4 L462 973.6 Z M633.7 971.5 L620 969.4 L620 973.6 Z" fill="#000" stroke="none"/>
<path d="M650.5 762 L650.5 930" stroke-width="1.2"/>
<path d="M650.5 752.4 L648.4 766 L652.6 766 Z M650.5 939.7 L648.4 926 L652.6 926 Z" fill="#000" stroke="none"/>
</g>
<text x="519.9" y="965.1" font-family="Liberation Sans" font-weight="bold" font-size="13" fill="#111" textLength="47.2" lengthAdjust="spacingAndGlyphs">6x90 cm</text>
<text transform="translate(656.9 772.5) rotate(90)" x="0" y="0" font-family="Liberation Sans" font-weight="bold" font-size="12.4" fill="#111" textLength="147" lengthAdjust="spacingAndGlyphs">min 20 cm ... max 160 cm</text>
<!-- qrlogo -->
<path d="M214.20 919.20h11.78v1.68h-11.78zM227.66 919.20h1.68v1.68h-1.68zM232.71 919.20h1.68v1.68h-1.68zM237.76 919.20h1.68v1.68h-1.68zM244.49 919.20h5.05v1.68h-5.05zM251.22 919.20h11.78v1.68h-11.78zM214.20 920.88h1.68v1.68h-1.68zM224.30 920.88h1.68v1.68h-1.68zM231.03 920.88h1.68v1.68h-1.68zM239.44 920.88h3.37v1.68h-3.37zM244.49 920.88h5.05v1.68h-5.05zM251.22 920.88h1.68v1.68h-1.68zM261.32 920.88h1.68v1.68h-1.68zM214.20 922.57h1.68v1.68h-1.68zM217.57 922.57h5.05v1.68h-5.05zM224.30 922.57h1.68v1.68h-1.68zM227.66 922.57h5.05v1.68h-5.05zM237.76 922.57h1.68v1.68h-1.68zM241.12 922.57h3.37v1.68h-3.37zM251.22 922.57h1.68v1.68h-1.68zM254.59 922.57h5.05v1.68h-5.05zM261.32 922.57h1.68v1.68h-1.68zM214.20 924.25h1.68v1.68h-1.68zM217.57 924.25h5.05v1.68h-5.05zM224.30 924.25h1.68v1.68h-1.68zM229.34 924.25h6.73v1.68h-6.73zM237.76 924.25h1.68v1.68h-1.68zM241.12 924.25h1.68v1.68h-1.68zM246.17 924.25h3.37v1.68h-3.37zM251.22 924.25h1.68v1.68h-1.68zM254.59 924.25h5.05v1.68h-5.05zM261.32 924.25h1.68v1.68h-1.68zM214.20 925.93h1.68v1.68h-1.68zM217.57 925.93h5.05v1.68h-5.05zM224.30 925.93h1.68v1.68h-1.68zM229.34 925.93h1.68v1.68h-1.68zM232.71 925.93h3.37v1.68h-3.37zM239.44 925.93h5.05v1.68h-5.05zM247.86 925.93h1.68v1.68h-1.68zM251.22 925.93h1.68v1.68h-1.68zM254.59 925.93h5.05v1.68h-5.05zM261.32 925.93h1.68v1.68h-1.68zM214.20 927.61h1.68v1.68h-1.68zM224.30 927.61h1.68v1.68h-1.68zM227.66 927.61h5.05v1.68h-5.05zM234.39 927.61h1.68v1.68h-1.68zM237.76 927.61h3.37v1.68h-3.37zM242.81 927.61h1.68v1.68h-1.68zM246.17 927.61h3.37v1.68h-3.37zM251.22 927.61h1.68v1.68h-1.68zM261.32 927.61h1.68v1.68h-1.68zM214.20 929.30h11.78v1.68h-11.78zM227.66 929.30h1.68v1.68h-1.68zM231.03 929.30h1.68v1.68h-1.68zM234.39 929.30h1.68v1.68h-1.68zM237.76 929.30h1.68v1.68h-1.68zM241.12 929.30h1.68v1.68h-1.68zM244.49 929.30h1.68v1.68h-1.68zM247.86 929.30h1.68v1.68h-1.68zM251.22 929.30h11.78v1.68h-11.78zM227.66 930.98h3.37v1.68h-3.37zM234.39 930.98h1.68v1.68h-1.68zM237.76 930.98h3.37v1.68h-3.37zM244.49 930.98h1.68v1.68h-1.68zM247.86 930.98h1.68v1.68h-1.68zM214.20 932.66h1.68v1.68h-1.68zM217.57 932.66h8.41v1.68h-8.41zM227.66 932.66h1.68v1.68h-1.68zM231.03 932.66h3.37v1.68h-3.37zM236.08 932.66h1.68v1.68h-1.68zM241.12 932.66h3.37v1.68h-3.37zM247.86 932.66h3.37v1.68h-3.37zM254.59 932.66h1.68v1.68h-1.68zM261.32 932.66h1.68v1.68h-1.68zM214.20 934.34h3.37v1.68h-3.37zM219.25 934.34h1.68v1.68h-1.68zM222.61 934.34h1.68v1.68h-1.68zM229.34 934.34h3.37v1.68h-3.37zM234.39 934.34h3.37v1.68h-3.37zM242.81 934.34h1.68v1.68h-1.68zM246.17 934.34h11.78v1.68h-11.78zM259.63 934.34h3.37v1.68h-3.37zM222.61 936.03h6.73v1.68h-6.73zM234.39 936.03h1.68v1.68h-1.68zM237.76 936.03h1.68v1.68h-1.68zM241.12 936.03h1.68v1.68h-1.68zM244.49 936.03h1.68v1.68h-1.68zM257.95 936.03h1.68v1.68h-1.68zM215.88 937.71h1.68v1.68h-1.68zM225.98 937.71h1.68v1.68h-1.68zM231.03 937.71h1.68v1.68h-1.68zM239.44 937.71h1.68v1.68h-1.68zM244.49 937.71h1.68v1.68h-1.68zM247.86 937.71h1.68v1.68h-1.68zM251.22 937.71h1.68v1.68h-1.68zM254.59 937.71h3.37v1.68h-3.37zM259.63 937.71h1.68v1.68h-1.68zM215.88 939.39h5.05v1.68h-5.05zM222.61 939.39h5.05v1.68h-5.05zM231.03 939.39h1.68v1.68h-1.68zM234.39 939.39h1.68v1.68h-1.68zM237.76 939.39h3.37v1.68h-3.37zM246.17 939.39h1.68v1.68h-1.68zM249.54 939.39h5.05v1.68h-5.05zM261.32 939.39h1.68v1.68h-1.68zM214.20 941.08h8.41v1.68h-8.41zM225.98 941.08h3.37v1.68h-3.37zM232.71 941.08h5.05v1.68h-5.05zM239.44 941.08h1.68v1.68h-1.68zM244.49 941.08h1.68v1.68h-1.68zM247.86 941.08h6.73v1.68h-6.73zM256.27 941.08h5.05v1.68h-5.05zM214.20 942.76h1.68v1.68h-1.68zM224.30 942.76h10.10v1.68h-10.10zM236.08 942.76h5.05v1.68h-5.05zM247.86 942.76h1.68v1.68h-1.68zM252.90 942.76h1.68v1.68h-1.68zM257.95 942.76h3.37v1.68h-3.37zM215.88 944.44h1.68v1.68h-1.68zM225.98 944.44h1.68v1.68h-1.68zM229.34 944.44h1.68v1.68h-1.68zM237.76 944.44h1.68v1.68h-1.68zM247.86 944.44h1.68v1.68h-1.68zM252.90 944.44h5.05v1.68h-5.05zM261.32 944.44h1.68v1.68h-1.68zM214.20 946.12h1.68v1.68h-1.68zM217.57 946.12h1.68v1.68h-1.68zM220.93 946.12h5.05v1.68h-5.05zM227.66 946.12h3.37v1.68h-3.37zM239.44 946.12h1.68v1.68h-1.68zM242.81 946.12h3.37v1.68h-3.37zM247.86 946.12h1.68v1.68h-1.68zM257.95 946.12h3.37v1.68h-3.37zM215.88 947.81h1.68v1.68h-1.68zM225.98 947.81h1.68v1.68h-1.68zM232.71 947.81h1.68v1.68h-1.68zM237.76 947.81h1.68v1.68h-1.68zM242.81 947.81h1.68v1.68h-1.68zM246.17 947.81h1.68v1.68h-1.68zM249.54 947.81h1.68v1.68h-1.68zM254.59 947.81h6.73v1.68h-6.73zM215.88 949.49h5.05v1.68h-5.05zM224.30 949.49h3.37v1.68h-3.37zM229.34 949.49h5.05v1.68h-5.05zM236.08 949.49h3.37v1.68h-3.37zM241.12 949.49h1.68v1.68h-1.68zM244.49 949.49h1.68v1.68h-1.68zM247.86 949.49h3.37v1.68h-3.37zM252.90 949.49h5.05v1.68h-5.05zM259.63 949.49h3.37v1.68h-3.37zM225.98 951.17h1.68v1.68h-1.68zM232.71 951.17h3.37v1.68h-3.37zM237.76 951.17h1.68v1.68h-1.68zM242.81 951.17h3.37v1.68h-3.37zM247.86 951.17h3.37v1.68h-3.37zM252.90 951.17h1.68v1.68h-1.68zM256.27 951.17h3.37v1.68h-3.37zM261.32 951.17h1.68v1.68h-1.68zM214.20 952.86h1.68v1.68h-1.68zM220.93 952.86h1.68v1.68h-1.68zM224.30 952.86h1.68v1.68h-1.68zM231.03 952.86h6.73v1.68h-6.73zM242.81 952.86h13.46v1.68h-13.46zM261.32 952.86h1.68v1.68h-1.68zM227.66 954.54h1.68v1.68h-1.68zM231.03 954.54h1.68v1.68h-1.68zM234.39 954.54h3.37v1.68h-3.37zM239.44 954.54h1.68v1.68h-1.68zM242.81 954.54h1.68v1.68h-1.68zM247.86 954.54h1.68v1.68h-1.68zM254.59 954.54h5.05v1.68h-5.05zM261.32 954.54h1.68v1.68h-1.68zM214.20 956.22h11.78v1.68h-11.78zM227.66 956.22h3.37v1.68h-3.37zM232.71 956.22h1.68v1.68h-1.68zM242.81 956.22h1.68v1.68h-1.68zM247.86 956.22h1.68v1.68h-1.68zM251.22 956.22h1.68v1.68h-1.68zM254.59 956.22h1.68v1.68h-1.68zM259.63 956.22h1.68v1.68h-1.68zM214.20 957.90h1.68v1.68h-1.68zM224.30 957.90h1.68v1.68h-1.68zM232.71 957.90h1.68v1.68h-1.68zM242.81 957.90h1.68v1.68h-1.68zM246.17 957.90h3.37v1.68h-3.37zM254.59 957.90h8.41v1.68h-8.41zM214.20 959.59h1.68v1.68h-1.68zM217.57 959.59h5.05v1.68h-5.05zM224.30 959.59h1.68v1.68h-1.68zM231.03 959.59h1.68v1.68h-1.68zM236.08 959.59h1.68v1.68h-1.68zM242.81 959.59h1.68v1.68h-1.68zM247.86 959.59h8.41v1.68h-8.41zM261.32 959.59h1.68v1.68h-1.68zM214.20 961.27h1.68v1.68h-1.68zM217.57 961.27h5.05v1.68h-5.05zM224.30 961.27h1.68v1.68h-1.68zM231.03 961.27h11.78v1.68h-11.78zM256.27 961.27h1.68v1.68h-1.68zM261.32 961.27h1.68v1.68h-1.68zM214.20 962.95h1.68v1.68h-1.68zM217.57 962.95h5.05v1.68h-5.05zM224.30 962.95h1.68v1.68h-1.68zM229.34 962.95h6.73v1.68h-6.73zM237.76 962.95h1.68v1.68h-1.68zM241.12 962.95h1.68v1.68h-1.68zM246.17 962.95h3.37v1.68h-3.37zM252.90 962.95h1.68v1.68h-1.68zM256.27 962.95h6.73v1.68h-6.73zM214.20 964.63h1.68v1.68h-1.68zM224.30 964.63h1.68v1.68h-1.68zM227.66 964.63h1.68v1.68h-1.68zM231.03 964.63h1.68v1.68h-1.68zM236.08 964.63h1.68v1.68h-1.68zM241.12 964.63h1.68v1.68h-1.68zM244.49 964.63h3.37v1.68h-3.37zM249.54 964.63h1.68v1.68h-1.68zM256.27 964.63h1.68v1.68h-1.68zM214.20 966.32h11.78v1.68h-11.78zM227.66 966.32h1.68v1.68h-1.68zM231.03 966.32h5.05v1.68h-5.05zM237.76 966.32h3.37v1.68h-3.37zM242.81 966.32h3.37v1.68h-3.37zM247.86 966.32h1.68v1.68h-1.68zM257.95 966.32h3.37v1.68h-3.37z" fill="#000" stroke="#000" stroke-width="0.12"/>
<path d="M281.20 919.20h11.88v1.70h-11.88zM299.86 919.20h1.70v1.70h-1.70zM303.26 919.20h1.70v1.70h-1.70zM306.65 919.20h10.18v1.70h-10.18zM318.52 919.20h11.88v1.70h-11.88zM281.20 920.90h1.70v1.70h-1.70zM291.38 920.90h1.70v1.70h-1.70zM294.77 920.90h1.70v1.70h-1.70zM298.17 920.90h1.70v1.70h-1.70zM303.26 920.90h3.39v1.70h-3.39zM315.13 920.90h1.70v1.70h-1.70zM318.52 920.90h1.70v1.70h-1.70zM328.70 920.90h1.70v1.70h-1.70zM281.20 922.59h1.70v1.70h-1.70zM284.59 922.59h5.09v1.70h-5.09zM291.38 922.59h1.70v1.70h-1.70zM296.47 922.59h1.70v1.70h-1.70zM301.56 922.59h5.09v1.70h-5.09zM310.04 922.59h1.70v1.70h-1.70zM313.43 922.59h3.39v1.70h-3.39zM318.52 922.59h1.70v1.70h-1.70zM321.92 922.59h5.09v1.70h-5.09zM328.70 922.59h1.70v1.70h-1.70zM281.20 924.29h1.70v1.70h-1.70zM284.59 924.29h5.09v1.70h-5.09zM291.38 924.29h1.70v1.70h-1.70zM294.77 924.29h1.70v1.70h-1.70zM298.17 924.29h8.48v1.70h-8.48zM310.04 924.29h6.79v1.70h-6.79zM318.52 924.29h1.70v1.70h-1.70zM321.92 924.29h5.09v1.70h-5.09zM328.70 924.29h1.70v1.70h-1.70zM281.20 925.99h1.70v1.70h-1.70zM284.59 925.99h5.09v1.70h-5.09zM291.38 925.99h1.70v1.70h-1.70zM298.17 925.99h3.39v1.70h-3.39zM306.65 925.99h1.70v1.70h-1.70zM315.13 925.99h1.70v1.70h-1.70zM318.52 925.99h1.70v1.70h-1.70zM321.92 925.99h5.09v1.70h-5.09zM328.70 925.99h1.70v1.70h-1.70zM281.20 927.68h1.70v1.70h-1.70zM291.38 927.68h1.70v1.70h-1.70zM296.47 927.68h5.09v1.70h-5.09zM315.13 927.68h1.70v1.70h-1.70zM318.52 927.68h1.70v1.70h-1.70zM328.70 927.68h1.70v1.70h-1.70zM281.20 929.38h11.88v1.70h-11.88zM294.77 929.38h1.70v1.70h-1.70zM298.17 929.38h1.70v1.70h-1.70zM301.56 929.38h1.70v1.70h-1.70zM304.95 929.38h1.70v1.70h-1.70zM308.34 929.38h1.70v1.70h-1.70zM311.74 929.38h1.70v1.70h-1.70zM315.13 929.38h1.70v1.70h-1.70zM318.52 929.38h11.88v1.70h-11.88zM296.47 931.08h8.48v1.70h-8.48zM308.34 931.08h3.39v1.70h-3.39zM313.43 931.08h1.70v1.70h-1.70zM282.90 932.77h3.39v1.70h-3.39zM287.99 932.77h5.09v1.70h-5.09zM299.86 932.77h1.70v1.70h-1.70zM306.65 932.77h5.09v1.70h-5.09zM318.52 932.77h1.70v1.70h-1.70zM321.92 932.77h1.70v1.70h-1.70zM327.01 932.77h1.70v1.70h-1.70zM281.20 934.47h1.70v1.70h-1.70zM286.29 934.47h1.70v1.70h-1.70zM289.68 934.47h1.70v1.70h-1.70zM293.08 934.47h1.70v1.70h-1.70zM296.47 934.47h3.39v1.70h-3.39zM301.56 934.47h1.70v1.70h-1.70zM304.95 934.47h1.70v1.70h-1.70zM308.34 934.47h6.79v1.70h-6.79zM316.83 934.47h1.70v1.70h-1.70zM325.31 934.47h1.70v1.70h-1.70zM328.70 934.47h1.70v1.70h-1.70zM284.59 936.17h1.70v1.70h-1.70zM291.38 936.17h8.48v1.70h-8.48zM301.56 936.17h5.09v1.70h-5.09zM308.34 936.17h1.70v1.70h-1.70zM311.74 936.17h8.48v1.70h-8.48zM323.61 936.17h5.09v1.70h-5.09zM281.20 937.86h1.70v1.70h-1.70zM284.59 937.86h1.70v1.70h-1.70zM287.99 937.86h1.70v1.70h-1.70zM294.77 937.86h1.70v1.70h-1.70zM298.17 937.86h5.09v1.70h-5.09zM304.95 937.86h1.70v1.70h-1.70zM308.34 937.86h1.70v1.70h-1.70zM311.74 937.86h3.39v1.70h-3.39zM318.52 937.86h1.70v1.70h-1.70zM323.61 937.86h3.39v1.70h-3.39zM328.70 937.86h1.70v1.70h-1.70zM282.90 939.56h1.70v1.70h-1.70zM291.38 939.56h1.70v1.70h-1.70zM296.47 939.56h5.09v1.70h-5.09zM303.26 939.56h5.09v1.70h-5.09zM313.43 939.56h3.39v1.70h-3.39zM321.92 939.56h1.70v1.70h-1.70zM328.70 939.56h1.70v1.70h-1.70zM281.20 941.26h1.70v1.70h-1.70zM286.29 941.26h3.39v1.70h-3.39zM296.47 941.26h8.48v1.70h-8.48zM308.34 941.26h5.09v1.70h-5.09zM315.13 941.26h3.39v1.70h-3.39zM327.01 941.26h1.70v1.70h-1.70zM286.29 942.95h3.39v1.70h-3.39zM291.38 942.95h10.18v1.70h-10.18zM308.34 942.95h3.39v1.70h-3.39zM313.43 942.95h1.70v1.70h-1.70zM320.22 942.95h6.79v1.70h-6.79zM328.70 942.95h1.70v1.70h-1.70zM287.99 944.65h3.39v1.70h-3.39zM294.77 944.65h5.09v1.70h-5.09zM303.26 944.65h1.70v1.70h-1.70zM306.65 944.65h1.70v1.70h-1.70zM313.43 944.65h1.70v1.70h-1.70zM320.22 944.65h1.70v1.70h-1.70zM325.31 944.65h1.70v1.70h-1.70zM328.70 944.65h1.70v1.70h-1.70zM281.20 946.34h1.70v1.70h-1.70zM291.38 946.34h3.39v1.70h-3.39zM301.56 946.34h1.70v1.70h-1.70zM306.65 946.34h1.70v1.70h-1.70zM310.04 946.34h5.09v1.70h-5.09zM316.83 946.34h1.70v1.70h-1.70zM320.22 946.34h1.70v1.70h-1.70zM282.90 948.04h1.70v1.70h-1.70zM286.29 948.04h1.70v1.70h-1.70zM294.77 948.04h1.70v1.70h-1.70zM298.17 948.04h3.39v1.70h-3.39zM306.65 948.04h1.70v1.70h-1.70zM311.74 948.04h3.39v1.70h-3.39zM320.22 948.04h1.70v1.70h-1.70zM286.29 949.74h1.70v1.70h-1.70zM291.38 949.74h1.70v1.70h-1.70zM298.17 949.74h1.70v1.70h-1.70zM301.56 949.74h3.39v1.70h-3.39zM310.04 949.74h5.09v1.70h-5.09zM316.83 949.74h3.39v1.70h-3.39zM321.92 949.74h3.39v1.70h-3.39zM282.90 951.43h1.70v1.70h-1.70zM289.68 951.43h1.70v1.70h-1.70zM293.08 951.43h1.70v1.70h-1.70zM296.47 951.43h1.70v1.70h-1.70zM299.86 951.43h1.70v1.70h-1.70zM303.26 951.43h6.79v1.70h-6.79zM311.74 951.43h1.70v1.70h-1.70zM315.13 951.43h1.70v1.70h-1.70zM318.52 951.43h1.70v1.70h-1.70zM323.61 951.43h1.70v1.70h-1.70zM281.20 953.13h1.70v1.70h-1.70zM291.38 953.13h1.70v1.70h-1.70zM296.47 953.13h3.39v1.70h-3.39zM311.74 953.13h1.70v1.70h-1.70zM315.13 953.13h8.48v1.70h-8.48zM325.31 953.13h5.09v1.70h-5.09zM294.77 954.83h10.18v1.70h-10.18zM311.74 954.83h5.09v1.70h-5.09zM321.92 954.83h1.70v1.70h-1.70zM325.31 954.83h1.70v1.70h-1.70zM328.70 954.83h1.70v1.70h-1.70zM281.20 956.52h11.88v1.70h-11.88zM296.47 956.52h3.39v1.70h-3.39zM303.26 956.52h1.70v1.70h-1.70zM313.43 956.52h3.39v1.70h-3.39zM318.52 956.52h1.70v1.70h-1.70zM321.92 956.52h1.70v1.70h-1.70zM328.70 956.52h1.70v1.70h-1.70zM281.20 958.22h1.70v1.70h-1.70zM291.38 958.22h1.70v1.70h-1.70zM299.86 958.22h5.09v1.70h-5.09zM306.65 958.22h10.18v1.70h-10.18zM321.92 958.22h1.70v1.70h-1.70zM325.31 958.22h3.39v1.70h-3.39zM281.20 959.92h1.70v1.70h-1.70zM284.59 959.92h5.09v1.70h-5.09zM291.38 959.92h1.70v1.70h-1.70zM294.77 959.92h1.70v1.70h-1.70zM299.86 959.92h1.70v1.70h-1.70zM311.74 959.92h1.70v1.70h-1.70zM315.13 959.92h8.48v1.70h-8.48zM281.20 961.61h1.70v1.70h-1.70zM284.59 961.61h5.09v1.70h-5.09zM291.38 961.61h1.70v1.70h-1.70zM299.86 961.61h3.39v1.70h-3.39zM308.34 961.61h3.39v1.70h-3.39zM315.13 961.61h3.39v1.70h-3.39zM321.92 961.61h1.70v1.70h-1.70zM281.20 963.31h1.70v1.70h-1.70zM284.59 963.31h5.09v1.70h-5.09zM291.38 963.31h1.70v1.70h-1.70zM294.77 963.31h1.70v1.70h-1.70zM298.17 963.31h1.70v1.70h-1.70zM301.56 963.31h1.70v1.70h-1.70zM304.95 963.31h8.48v1.70h-8.48zM316.83 963.31h1.70v1.70h-1.70zM320.22 963.31h3.39v1.70h-3.39zM325.31 963.31h5.09v1.70h-5.09zM281.20 965.01h1.70v1.70h-1.70zM291.38 965.01h1.70v1.70h-1.70zM294.77 965.01h3.39v1.70h-3.39zM299.86 965.01h1.70v1.70h-1.70zM303.26 965.01h1.70v1.70h-1.70zM306.65 965.01h3.39v1.70h-3.39zM311.74 965.01h6.79v1.70h-6.79zM320.22 965.01h1.70v1.70h-1.70zM323.61 965.01h1.70v1.70h-1.70zM327.01 965.01h3.39v1.70h-3.39zM281.20 966.70h11.88v1.70h-11.88zM294.77 966.70h8.48v1.70h-8.48zM306.65 966.70h1.70v1.70h-1.70zM311.74 966.70h3.39v1.70h-3.39zM316.83 966.70h1.70v1.70h-1.70zM323.61 966.70h5.09v1.70h-5.09z" fill="#000" stroke="#000" stroke-width="0.12"/>
<g font-family="Liberation Sans" font-weight="bold" font-size="12.4" fill="#222" stroke="#222" stroke-width="0.35">
<text x="214.3" y="906.8" textLength="48" lengthAdjust="spacing">718133</text>
<text x="280.8" y="906.8" textLength="49" lengthAdjust="spacing">718137</text>
</g>
<g fill="#1a1a1a">
<text x="149.7" y="101.2" font-family="Liberation Serif" font-weight="bold" font-size="40.8" stroke="#1a1a1a" stroke-width="1.3" textLength="79.2" lengthAdjust="spacingAndGlyphs">LIGHT</text>
<text x="149.7" y="138" font-family="Liberation Serif" font-weight="bold" font-size="47" stroke="#1a1a1a" stroke-width="1.3" textLength="78.7" lengthAdjust="spacingAndGlyphs">STAR</text>
<text x="149.7" y="155.8" font-family="Liberation Sans" font-size="16.5" fill="#333" textLength="78.7" lengthAdjust="spacing">GROUP</text>
</g>
<rect x="149.4" y="162" width="26.8" height="4.7" fill="#478d57"/>
<rect x="201.7" y="162" width="27.3" height="4.7" fill="#9e2632"/>
<rect x="149.4" y="162" width="79.6" height="4.7" fill="none" stroke="#1a1a1a" stroke-width="0.7"/>
<!-- step circles -->
<g fill="none" stroke="#222" stroke-width="1.15">
<circle cx="148.5" cy="256" r="10.4"/>
<circle cx="431" cy="256" r="10.4"/>
<circle cx="148.8" cy="406.7" r="10.4"/>
<circle cx="431.8" cy="407.2" r="10.4"/>
<circle cx="148.8" cy="751" r="10.4"/>
</g>
<g font-family="Liberation Sans" font-weight="bold" font-size="11.6" fill="#222" stroke="#222" stroke-width="0.3" text-anchor="middle">
<text x="148.5" y="260.1">1</text>
<text x="431" y="260.1">2</text>
<text x="148.8" y="410.9">3</text>
<text x="431.8" y="411.4">4</text>
<text x="148.8" y="755.2">5</text>
</g>
</svg>
<div class="abs" style="left:150px;top:1009px;font-size:12.9px;line-height:16px;color:#222;-webkit-text-stroke:0.35px #222;">1. Светильник работает от сетевого напряжения 230В.<br>2. Всегда выключайте напряжение, когда устанавливаете светильник.</div>
</body></html>
